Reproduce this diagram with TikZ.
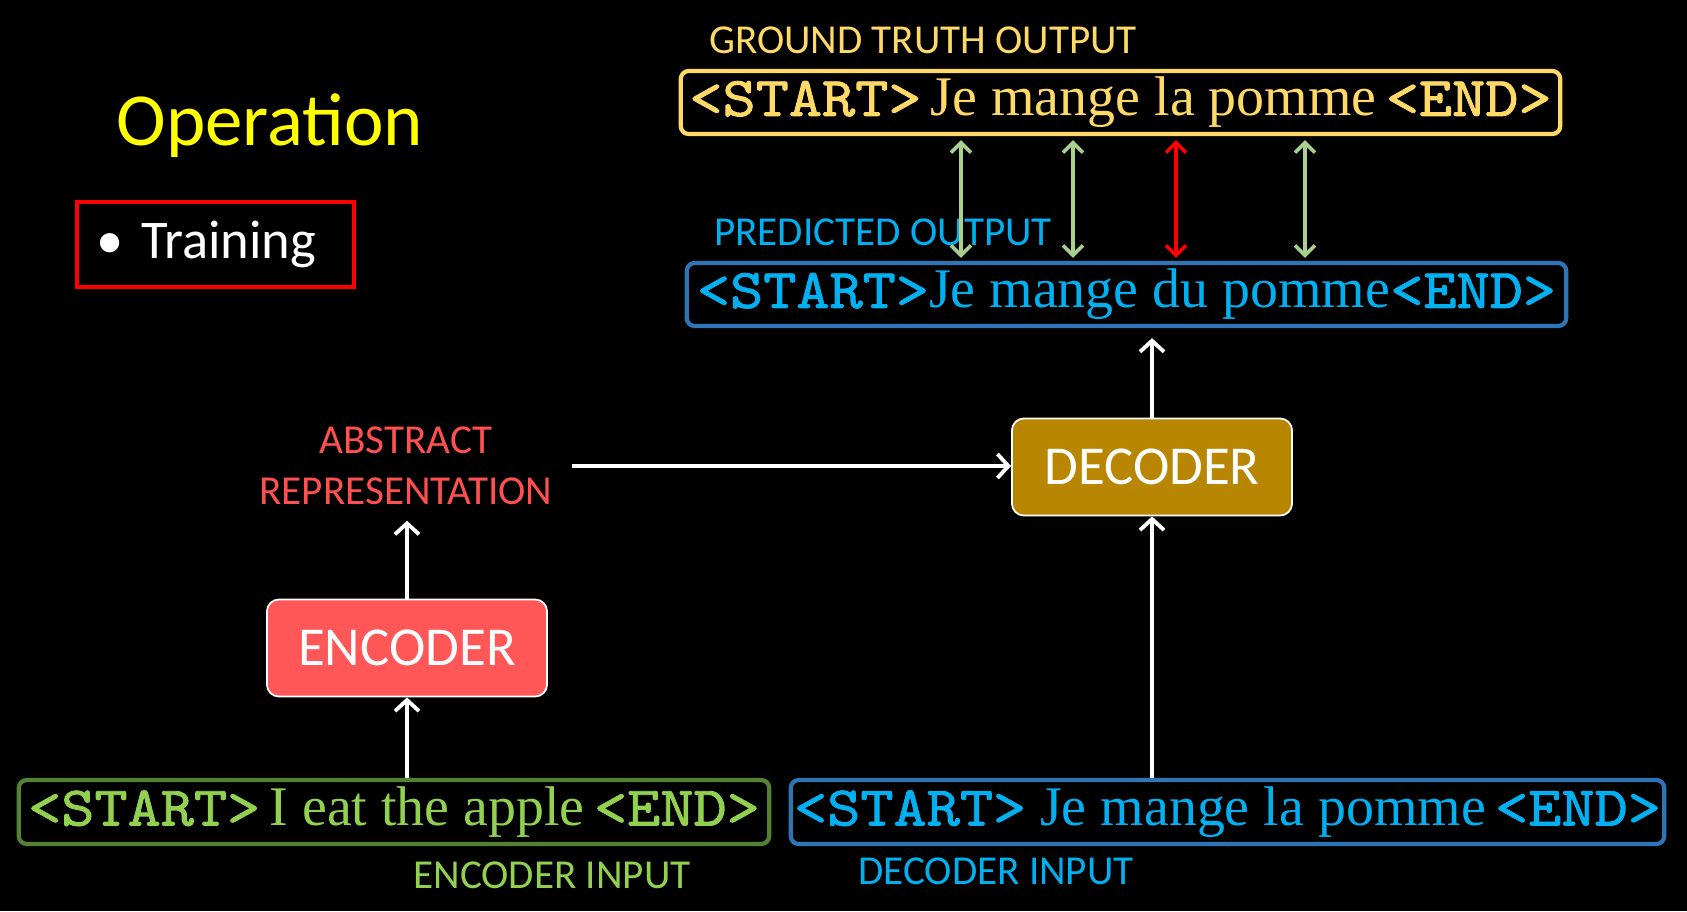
\documentclass[tikz,border=0pt]{standalone}
\usepackage{fontspec}
\setmainfont{Liberation Serif}
\newfontfamily\calibri{Carlito}
\newfontfamily\seqmono[FakeStretch=1.13,FakeBold=1.6]{lmmono10-regular.otf}
\usepackage{tikz}
\usetikzlibrary{arrows.meta,calc,positioning}

\definecolor{gtgold}{HTML}{FFD966}
\definecolor{predcyan}{HTML}{00B0F0}
\definecolor{predblue}{HTML}{2E75B6}
\definecolor{encgreen}{HTML}{92D050}
\definecolor{encolive}{HTML}{548235}
\definecolor{encred}{HTML}{FF5757}
\definecolor{absred}{HTML}{FF5050}
\definecolor{decgold}{HTML}{B88600}
\definecolor{okgreen}{HTML}{A9D18E}
\definecolor{opyellow}{HTML}{FFFF00}

\newcommand{\seqtag}[1]{{\seqmono #1}}

\begin{document}
\begin{tikzpicture}[x=0.01cm,y=-0.01cm,
	seqbox/.style={draw,line width=1.2pt,rounded corners=0.08cm,minimum height=0.63cm,inner sep=0pt,font=\fontsize{15.9}{18}\selectfont},
	codebox/.style={draw=white,line width=0.5pt,rounded corners=0.12cm,minimum width=2.8cm,minimum height=0.97cm,text=white,font=\calibri\fontsize{15.6}{18}\selectfont},
	lbl/.style={anchor=base,inner sep=0pt,font=\calibri\fontsize{11.7}{14}\selectfont},
	flow/.style={white,line width=1.1pt,-{Straight Barb[length=0.11cm,width=0.24cm]}},
	check/.style={line width=1pt,{Straight Barb[length=0.1cm,width=0.2cm]}-{Straight Barb[length=0.1cm,width=0.2cm]},shorten <=0.04cm,shorten >=0.03cm}]
	\fill[black] (0,0) rectangle (1687,911);
	\useasboundingbox (0,0) rectangle (1687,911);

	\node (op) at (270,145) [anchor=base,inner sep=0pt,text=opyellow,font=\calibri\fontsize{21.3}{25}\selectfont] {Operation};
	\node (train) at (215.5,244.5) [draw=red,line width=1.1pt,minimum height=0.85cm,text width=2.37cm,inner xsep=0.2cm,align=left,text=white,font=\calibri\fontsize{15.5}{18}\selectfont] {\textbullet\hspace{0.17cm}Training};

	\node (gtlbl) at (923,53) [lbl,text=gtgold] {GROUND TRUTH OUTPUT};
	\node (gt) at (1120.5,102.5) [seqbox,draw=gtgold,text=gtgold,minimum width=8.79cm] {\seqtag{<START>}\,Je mange la pomme\,\seqtag{<END>}};
	\node (predlbl) at (883,245) [lbl,text=predcyan] {PREDICTED OUTPUT};
	\node (pred) at (1126.5,294.5) [seqbox,draw=predblue,text=predcyan,minimum width=8.79cm] {\seqtag{<START>}Je mange du pomme\seqtag{<END>}};

	\node (abs) at (406,466) [inner xsep=0.19cm,inner ysep=0.15cm,align=center,text=absred,font=\calibri\fontsize{11.7}{14.5}\selectfont] {ABSTRACT\\REPRESENTATION};
	\node (dec) at (1152,467) [codebox,fill=decgold] {DECODER};
	\node (enc) at (407,648) [codebox,fill=encred] {ENCODER};

	\node (encin) at (394,812) [seqbox,draw=encolive,text=encgreen,minimum width=7.5cm,minimum height=0.64cm] {\seqtag{<START>}\,I eat the apple\,\seqtag{<END>}};
	\node (decin) at (1227.5,812) [seqbox,draw=predblue,text=predcyan,minimum width=8.73cm,minimum height=0.64cm] {\seqtag{<START>} Je mange la pomme\,\seqtag{<END>}};
	\node (enclbl) at (552,888) [lbl,text=encgreen] {ENCODER INPUT};
	\node (declbl) at (996,884) [lbl,text=predcyan] {DECODER INPUT};

	\draw[flow] (enc.south |- encin.north) -- (enc.south);
	\draw[flow] (enc.north) -- (enc.north |- abs.south);
	\draw[flow] (abs.east) -- (abs.east -| dec.west);
	\draw[flow] (dec.south |- decin.north) -- (dec.south);
	\draw[flow,shorten >=0.1cm] (dec.north) -- (dec.north |- pred.south);

	\foreach \i/\x/\c in {1/961/okgreen,2/1073/okgreen,3/1176/red,4/1305/okgreen} {
		\coordinate (m\i) at (\x,0);
		\draw[check,\c] (gt.south -| m\i) -- (pred.north -| m\i);
	}
\end{tikzpicture}
\end{document}
